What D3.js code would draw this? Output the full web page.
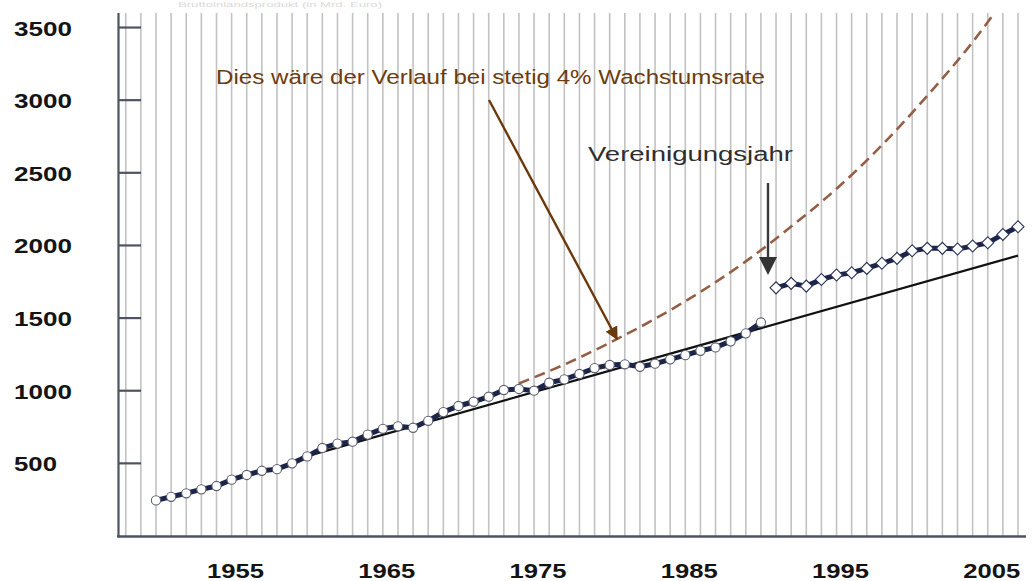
<!DOCTYPE html>
<html>
<head>
<meta charset="utf-8">
<script src="https://cdn.jsdelivr.net/npm/d3@7"></script>
<style>
  body { margin: 0; background: #fff; }
  text { font-family: "Liberation Sans", Arial, sans-serif; }
</style>
</head>
<body>
<div id="chart"></div>
<script>
// West Germany 1950-1990
var westYears = [1950, 1951, 1952, 1953, 1954, 1955, 1956, 1957, 1958, 1959,
  1960, 1961, 1962, 1963, 1964, 1965, 1966, 1967, 1968, 1969,
  1970, 1971, 1972, 1973, 1974, 1975, 1976, 1977, 1978, 1979,
  1980, 1981, 1982, 1983, 1984, 1985, 1986, 1987, 1988, 1989, 1990];
var westValues = [245, 270, 294, 321, 344, 388, 420, 449, 460, 500,
  548, 606, 636, 649, 698, 738, 755, 745, 793, 853,
  895, 924, 959, 1005, 1012, 1000, 1055, 1078, 1115, 1156,
  1177, 1182, 1165, 1186, 1216, 1245, 1275, 1298, 1340, 1395, 1470];

// unified Germany 1991-2007
var unifiedYears = [1991, 1992, 1993, 1994, 1995, 1996, 1997, 1998, 1999,
  2000, 2001, 2002, 2003, 2004, 2005, 2006, 2007];
var unifiedValues = [1708, 1739, 1720, 1766, 1796, 1812, 1842, 1877, 1911,
  1963, 1980, 1980, 1975, 1996, 2018, 2076, 2129];

// straight black trend line
var trendYears = [1960, 2007];
var trendValues = [550, 1930];

// dashed "4% per year" course
var growthYears = [1974, 1977, 1980, 1983, 1986, 1989, 1992, 1995, 1998, 2001, 2004, 2007];
var growthValues = [1050, 1180, 1330, 1495, 1680, 1890, 2130, 2390, 2690, 3030, 3400, 3830];

var yTicks = [500, 1000, 1500, 2000, 2500, 3000, 3500];
var xTicks = [1955, 1965, 1975, 1985, 1995, 2005];
var gridYears = d3.range(1948, 2008);

var svgWidth = 1035;
var svgHeight = 581;

var svg = d3.select("#chart")
  .append("svg")
  .attr("width", svgWidth)
  .attr("height", svgHeight);

var x = d3.scaleLinear().domain([1950, 2007]).range([156, 1018]);
var y = d3.scaleLinear().domain([0, 3600]).range([536, 13]);

var defs = svg.append("defs");
defs.append("clipPath").attr("id", "plot")
  .append("rect").attr("x", 118).attr("y", 13).attr("width", 917).attr("height", 523);

defs.append("marker")
  .attr("id", "brownHead")
  .attr("viewBox", "0 0 10 10")
  .attr("refX", 9).attr("refY", 5)
  .attr("markerWidth", 5.5).attr("markerHeight", 5.5)
  .attr("markerUnits", "strokeWidth")
  .attr("orient", "auto")
  .append("path").attr("d", "M0,0 L10,5 L0,10 Z").attr("fill", "#6b3a0c");

// faint title strip at the very top (mostly cropped away in the original)
svg.append("text")
  .attr("x", 178)
  .attr("y", 7)
  .attr("font-size", 8)
  .attr("fill", "#dadada")
  .attr("textLength", 204)
  .attr("lengthAdjust", "spacingAndGlyphs")
  .text("Bruttoinlandsprodukt (in Mrd. Euro)");

// vertical grid, one line per year
svg.append("g")
  .selectAll("line")
  .data(gridYears)
  .enter()
  .append("line")
  .attr("x1", d => x(d)).attr("x2", d => x(d))
  .attr("y1", 13).attr("y2", 536)
  .attr("stroke", "#c2c2c2")
  .attr("stroke-width", 1.6);

// y axis line + inward ticks
svg.append("line")
  .attr("x1", 118.5).attr("x2", 118.5)
  .attr("y1", 13).attr("y2", 537)
  .attr("stroke", "#4e5362").attr("stroke-width", 2.2);

svg.append("g")
  .selectAll("line")
  .data(yTicks)
  .enter()
  .append("line")
  .attr("x1", 119).attr("x2", 141)
  .attr("y1", d => y(d)).attr("y2", d => y(d))
  .attr("stroke", "#4e5362").attr("stroke-width", 2.2);

svg.append("g")
  .selectAll("text")
  .data(yTicks)
  .enter()
  .append("text")
  .attr("x", 14)
  .attr("y", d => y(d) + 8)
  .attr("font-size", 21)
  .attr("font-weight", "bold")
  .attr("fill", "#141414")
  .attr("textLength", d => d < 1000 ? 43 : 58)
  .attr("lengthAdjust", "spacingAndGlyphs")
  .text(d => d);

// x axis
svg.append("line")
  .attr("x1", 117).attr("x2", 1026)
  .attr("y1", 536.5).attr("y2", 536.5)
  .attr("stroke", "#4e5362").attr("stroke-width", 2.4);

svg.append("g")
  .selectAll("text")
  .data(xTicks)
  .enter()
  .append("text")
  .attr("x", d => x(d) + 4)
  .attr("y", 578)
  .attr("text-anchor", "middle")
  .attr("font-size", 21)
  .attr("font-weight", "bold")
  .attr("fill", "#141414")
  .attr("textLength", 57)
  .attr("lengthAdjust", "spacingAndGlyphs")
  .text(d => d);

var plot = svg.append("g").attr("clip-path", "url(#plot)");

var line = d3.line().x(d => x(d[0])).y(d => y(d[1]));

// 4% course
plot.append("path")
  .datum(d3.zip(growthYears, growthValues))
  .attr("d", line.curve(d3.curveMonotoneX))
  .attr("fill", "none")
  .attr("stroke", "#955f45")
  .attr("stroke-width", 2.6)
  .attr("stroke-dasharray", "11,6");

line.curve(d3.curveLinear);

// trend line
plot.append("path")
  .datum(d3.zip(trendYears, trendValues))
  .attr("d", line)
  .attr("fill", "none")
  .attr("stroke", "#111")
  .attr("stroke-width", 2.2);

var west = d3.zip(westYears, westValues);
var unified = d3.zip(unifiedYears, unifiedValues);

[west, unified].forEach(function(series) {
  plot.append("path")
    .datum(series)
    .attr("d", line)
    .attr("fill", "none")
    .attr("stroke", "#1c2548")
    .attr("stroke-width", 5);
});

plot.append("g")
  .selectAll("circle")
  .data(west)
  .enter()
  .append("circle")
  .attr("cx", d => x(d[0]))
  .attr("cy", d => y(d[1]))
  .attr("r", 4.6)
  .attr("fill", "#fff")
  .attr("stroke", "#5a5f72")
  .attr("stroke-width", 1.1);

var diamond = d3.symbol().type(d3.symbolSquare).size(72);
plot.append("g")
  .selectAll("path")
  .data(unified)
  .enter()
  .append("path")
  .attr("d", diamond)
  .attr("transform", d => `translate(${x(d[0])},${y(d[1])}) rotate(45)`)
  .attr("fill", "#fff")
  .attr("stroke", "#2a3358")
  .attr("stroke-width", 1.1);

// annotations
svg.append("text")
  .attr("x", 216)
  .attr("y", 84)
  .attr("font-size", 20)
  .attr("fill", "#6e3c0e")
  .attr("textLength", 549)
  .attr("lengthAdjust", "spacingAndGlyphs")
  .text("Dies wäre der Verlauf bei stetig 4% Wachstumsrate");

svg.append("line")
  .attr("x1", 489).attr("y1", 100)
  .attr("x2", 617).attr("y2", 339)
  .attr("stroke", "#6b3a0c")
  .attr("stroke-width", 2.4)
  .attr("marker-end", "url(#brownHead)");

svg.append("text")
  .attr("x", 588)
  .attr("y", 161)
  .attr("font-size", 20)
  .attr("fill", "#2e2e2e")
  .attr("textLength", 205)
  .attr("lengthAdjust", "spacingAndGlyphs")
  .text("Vereinigungsjahr");

svg.append("line")
  .attr("x1", 768).attr("y1", 183)
  .attr("x2", 768).attr("y2", 258)
  .attr("stroke", "#3a3a3a")
  .attr("stroke-width", 2.4);

svg.append("path")
  .attr("d", "M759,257 L777,257 L768,275 Z")
  .attr("fill", "#333");
</script>
</body>
</html>
